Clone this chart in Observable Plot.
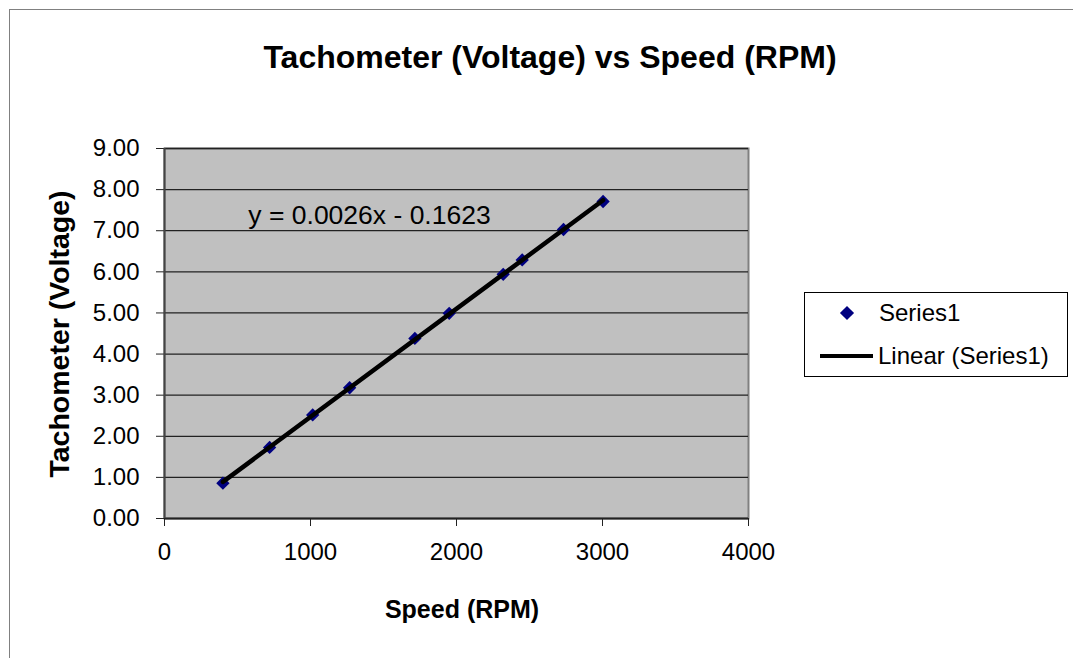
<!DOCTYPE html>
<html>
<head>
<meta charset="utf-8">
<script src="https://cdn.jsdelivr.net/npm/d3@7"></script>
<script src="https://cdn.jsdelivr.net/npm/@observablehq/plot@0.6"></script>
<style>
  html, body { margin: 0; padding: 0; background: #fff; overflow: hidden; width: 1073px; height: 658px; }
  body { position: relative; font-family: "Liberation Sans", Arial, sans-serif; color: #000; }
  #chart { position: absolute; left: 0; top: 0; }
  .lbl { position: absolute; white-space: nowrap; transform: translate(-50%, -50%); line-height: normal; }
  #outer { position: absolute; left: 9px; top: 9px; width: 2000px; height: 2000px; border: 1px solid #808080; box-sizing: border-box; }
  #legend { position: absolute; left: 804px; top: 292px; width: 264px; height: 85px; border: 1px solid #000; box-sizing: border-box; background: #fff; }
  .legtxt { position: absolute; font-size: 24px; white-space: nowrap; transform: translateY(-50%); line-height: normal; }
</style>
</head>
<body>
<div id="outer"></div>
<div id="chart"></div>
<div class="lbl" id="title" style="left:550px; top:57px; font-size:32px; font-weight:bold;"></div>
<div class="lbl" id="ylabel" style="left:59px; top:334px; font-size:28.5px; font-weight:bold; transform: translate(-50%, -50%) rotate(-90deg);"></div>
<div class="lbl" id="xlabel" style="left:462px; top:609px; font-size:25px; font-weight:bold;"></div>
<div id="legend">
  <svg width="262" height="83" style="position:absolute;left:0;top:0">
    <rect x="37" y="15" width="10" height="10" fill="#000080" transform="rotate(45 42 20)"></rect>
    <line x1="15" x2="68" y1="63" y2="63" stroke="#000" stroke-width="4"></line>
  </svg>
  <div class="legtxt" id="leg1" style="left:74px; top:20px;"></div>
  <div class="legtxt" id="leg2" style="left:73px; top:63px;"></div>
</div>
<script>
// ---- data ----
const speedRPM = [400, 720, 1015, 1268, 1715, 1950, 2320, 2450, 2733, 3004];
const tachVolts = [0.86, 1.73, 2.52, 3.18, 4.38, 4.99, 5.94, 6.29, 7.03, 7.71];
const xTicks = [0, 1000, 2000, 3000, 4000];
const yTicks = [0, 1, 2, 3, 4, 5, 6, 7, 8, 9];
const titleText = "Tachometer (Voltage) vs Speed (RPM)";
const xLabelText = "Speed (RPM)";
const yLabelText = "Tachometer (Voltage)";
const equationText = "y = 0.0026x - 0.1623";
const seriesName = "Series1";
const trendName = "Linear (Series1)";

const data = speedRPM.map((s, i) => ({speed: s, volts: tachVolts[i]}));

document.getElementById("title").textContent = titleText;
document.getElementById("xlabel").textContent = xLabelText;
document.getElementById("ylabel").textContent = yLabelText;
document.getElementById("leg1").textContent = seriesName;
document.getElementById("leg2").textContent = trendName;

const chart = Plot.plot({
  width: 1073,
  height: 658,
  marginLeft: 164,
  marginRight: 325,
  marginTop: 148,
  marginBottom: 140,
  style: {fontFamily: "'Liberation Sans', Arial, sans-serif", background: "transparent", color: "#000"},
  x: {domain: [0, 4000]},
  y: {domain: [0, 9]},
  marks: [
    Plot.frame({fill: "#c0c0c0", stroke: "#808080", strokeWidth: 2}),
    Plot.ruleY(yTicks.slice(1), {stroke: "#222", strokeWidth: 1.3}),
    Plot.axisX({ticks: xTicks, tickFormat: d => String(d), tickSize: 8, tickPadding: 16, fontSize: 24, label: null, stroke: "#222"}),
    Plot.axisY({ticks: yTicks, tickFormat: d3.format(".2f"), tickSize: 8, tickPadding: 17, fontSize: 24, label: null, stroke: "#222"}),
    Plot.ruleY([0], {stroke: "#222", strokeWidth: 2}),
    Plot.ruleX([0], {stroke: "#444", strokeWidth: 2}),
    Plot.dot(data, {x: "speed", y: "volts", symbol: "diamond2", r: 6, fill: "#000080", stroke: "none"}),
    Plot.linearRegressionY(data, {x: "speed", y: "volts", stroke: "#000", strokeWidth: 4.5, ci: 0}),
    Plot.text([equationText], {frameAnchor: "top-left", dx: 205, dy: 67, textAnchor: "middle", lineAnchor: "middle", fontSize: 26.5, fill: "#000"})
  ]
});
document.getElementById("chart").appendChild(chart);
</script>
</body>
</html>
